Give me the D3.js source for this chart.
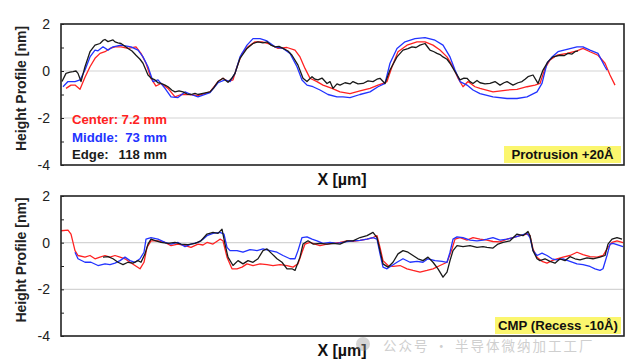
<!DOCTYPE html>
<html>
<head>
<meta charset="utf-8">
<script src="https://cdn.jsdelivr.net/npm/d3@7"></script>
<style>
  body { margin: 0; background: #fff; }
  svg { display: block; font-family: "Liberation Sans", Arial, sans-serif; }
</style>
</head>
<body>
<svg id="chart" width="635" height="363"></svg>
<script>
// x in um, height in nm
const yTicks = [-4, -3, -2, -1, 0, 1, 2];
const gridValues = [0, -2];

const legendLabels = ["Center:", "Middle:", "Edge:"];
const legendValues = ["7.2 mm", "73 mm", "118 mm"];
const seriesColors = ["#ff2222", "#2233ff", "#1a1a1a"];
const panelTags = ["Protrusion +20\u00c5", "CMP (Recess -10\u00c5)"];

// top panel (after protrusion)
const topCenter = [[0.5,-0.74],[1.0,-0.6],[1.4,-0.6],[1.9,-0.78],[2.4,-0.27],[2.9,0.18],[3.4,0.54],[3.9,0.75],[4.4,0.82],[4.9,0.96],[5.4,1.03],[6.0,1.03],[6.7,0.96],[7.5,1.03],[8.0,0.75],[8.5,0.33],[9.0,-0.31],[9.5,-0.64],[10.0,-0.53],[10.7,-0.74],[11.4,-1.1],[12.0,-1.0],[12.9,-1.0],[13.7,-1.05],[14.9,-0.89],[15.7,-0.45],[16.2,-0.31],[16.7,-0.45],[17.2,-0.38],[17.6,0.18],[18.1,0.75],[18.7,1.03],[19.4,1.24],[20.1,1.24],[20.9,1.14],[21.7,0.96],[22.6,1.0],[23.4,0.89],[23.9,0.6],[24.4,0.11],[24.9,-0.31],[25.6,-0.45],[26.2,-0.6],[27.1,-0.74],[27.9,-0.89],[28.9,-0.96],[29.9,-0.85],[30.9,-0.74],[31.7,-0.6],[32.2,-0.53],[32.6,-0.45],[33.1,0.18],[33.7,0.82],[34.6,1.1],[35.6,1.24],[36.4,1.24],[37.2,1.1],[37.9,0.89],[38.6,0.6],[39.2,0.18],[39.7,-0.31],[40.2,-0.67],[40.7,-0.45],[41.4,-0.67],[41.9,-0.74],[43.2,-0.89],[44.6,-0.81],[45.6,-0.78],[46.6,-0.67],[47.4,-0.6],[47.9,-0.53],[48.4,0.11],[48.9,0.47],[49.6,0.67],[50.6,0.75],[51.6,0.86],[52.2,0.96],[52.9,0.82],[53.7,0.67],[54.4,0.33],[54.9,-0.17],[55.4,-0.6]];

const topMiddle = [[0.2,-0.67],[0.7,-0.45],[1.4,-0.45],[1.9,-0.38],[2.4,0.04],[2.9,0.6],[3.4,0.89],[3.7,0.86],[4.2,1.03],[4.7,0.89],[5.2,1.03],[6.0,1.1],[7.0,1.03],[7.7,0.89],[8.2,0.6],[8.7,0.18],[9.2,-0.45],[9.7,-0.38],[10.4,-0.74],[11.0,-1.1],[11.7,-1.13],[12.4,-0.89],[13.0,-1.0],[13.7,-1.1],[14.9,-0.92],[15.7,-0.5],[16.4,-0.38],[16.9,-0.45],[17.4,-0.1],[17.9,0.6],[18.6,1.1],[19.2,1.38],[19.9,1.38],[20.6,1.28],[21.4,1.03],[22.2,0.96],[22.9,0.75],[23.6,0.18],[24.1,-0.38],[24.6,-0.6],[25.2,-0.67],[25.9,-0.81],[26.7,-1.0],[27.6,-1.1],[28.2,-1.1],[28.9,-1.13],[29.9,-1.0],[30.9,-0.89],[31.7,-0.67],[32.4,-0.53],[32.9,0.33],[33.6,0.96],[34.4,1.24],[35.4,1.38],[36.4,1.42],[37.4,1.31],[38.2,1.1],[38.9,0.6],[39.4,0.04],[39.9,-0.45],[40.6,-0.6],[41.2,-0.81],[41.9,-0.96],[43.2,-1.1],[44.6,-1.17],[45.6,-1.17],[46.6,-1.1],[47.6,-0.89],[48.1,-0.53],[48.6,0.33],[49.1,0.6],[49.7,0.82],[50.6,0.92],[51.6,1.03],[52.2,1.03],[52.9,0.89],[53.7,0.75],[54.4,0.18],[54.6,0.04]];

const topEdge = [[0.1,-0.45],[0.5,-0.1],[0.9,-0.05],[1.2,-0.03],[1.5,0.0],[1.7,-0.1],[2.0,-0.45],[2.4,0.18],[2.9,0.82],[3.4,1.1],[3.9,1.17],[4.2,1.3],[4.4,1.34],[4.7,1.25],[4.9,1.28],[5.2,1.32],[5.4,1.24],[5.7,1.2],[6.0,1.17],[6.4,1.05],[6.7,0.96],[7.1,0.85],[7.5,0.67],[7.9,0.5],[8.2,0.33],[8.7,-0.17],[9.0,-0.3],[9.4,-0.38],[9.7,-0.5],[10.0,-0.53],[10.4,-0.6],[10.7,-0.67],[11.1,-0.82],[11.4,-0.89],[11.8,-0.85],[12.2,-0.89],[12.6,-0.98],[13.0,-1.0],[13.4,-0.95],[13.7,-1.0],[14.2,-0.95],[14.9,-0.89],[15.3,-0.7],[15.7,-0.45],[16.2,-0.31],[16.7,-0.48],[17.1,-0.3],[17.4,-0.1],[17.9,0.54],[18.6,0.96],[19.2,1.17],[19.7,1.24],[20.2,1.2],[20.6,1.24],[21.0,1.1],[21.4,1.03],[21.8,1.05],[22.2,0.96],[22.7,0.85],[23.1,0.67],[23.7,0.25],[24.2,-0.31],[24.6,-0.45],[25.1,-0.24],[25.4,-0.35],[25.7,-0.38],[26.1,-0.3],[26.6,-0.53],[26.9,-0.45],[27.2,-0.74],[27.6,-0.55],[27.9,-0.6],[28.4,-0.5],[28.9,-0.55],[29.2,-0.45],[29.7,-0.55],[30.2,-0.53],[30.7,-0.42],[31.2,-0.45],[31.6,-0.35],[31.9,-0.31],[32.4,-0.53],[32.9,0.04],[33.6,0.6],[34.2,0.89],[34.7,0.95],[35.1,1.03],[35.5,1.0],[35.9,1.1],[36.4,1.17],[36.7,1.0],[36.9,0.89],[37.3,0.82],[37.6,0.75],[37.9,0.7],[38.2,0.6],[38.6,0.5],[38.9,0.33],[39.4,-0.03],[39.9,-0.38],[40.3,-0.3],[40.6,-0.31],[40.9,-0.45],[41.2,-0.53],[41.6,-0.4],[41.9,-0.5],[42.4,-0.55],[42.9,-0.53],[43.4,-0.45],[43.9,-0.6],[44.3,-0.5],[44.6,-0.45],[45.2,-0.6],[45.7,-0.5],[46.1,-0.45],[46.4,-0.35],[46.7,-0.24],[47.2,-0.17],[47.7,-0.53],[48.2,0.04],[48.7,0.4],[49.2,0.6],[49.9,0.67],[50.3,0.65],[50.7,0.75],[51.1,0.72],[51.4,0.82],[51.7,0.86]];

// bottom panel (after CMP)
const cmpCenter = [[0.0,0.51],[0.7,0.54],[1.0,0.37],[1.4,-0.34],[1.7,-0.55],[2.4,-0.62],[2.9,-0.55],[3.4,-0.69],[3.9,-0.62],[4.4,-0.55],[4.9,-0.62],[5.4,-0.55],[5.9,-0.62],[6.4,-0.69],[6.9,-0.84],[7.4,-0.98],[7.9,-1.12],[8.3,-0.84],[8.6,-0.2],[9.0,0.08],[9.7,0.08],[10.4,0.01],[11.0,-0.13],[11.7,-0.06],[12.4,-0.13],[13.0,-0.2],[13.7,-0.06],[14.2,-0.1],[14.6,0.01],[15.2,-0.06],[15.9,0.15],[16.2,0.08],[16.6,-0.62],[17.1,-1.12],[17.6,-1.12],[18.1,-1.05],[18.6,-0.91],[19.2,-0.98],[19.9,-0.91],[20.6,-0.94],[21.2,-0.98],[21.9,-0.94],[22.6,-0.98],[23.2,-1.05],[23.7,-0.91],[24.1,-0.41],[24.4,-0.06],[24.9,0.01],[25.4,-0.06],[25.9,-0.13],[26.6,-0.06],[27.2,-0.03],[27.9,0.01],[28.6,0.08],[29.2,0.06],[29.9,0.1],[30.6,0.15],[31.2,0.22],[31.6,0.3],[31.9,-0.2],[32.2,-0.77],[32.7,-0.98],[33.2,-1.02],[33.9,-0.98],[34.6,-1.12],[35.2,-1.19],[35.9,-1.26],[36.6,-1.19],[37.2,-1.12],[37.9,-0.98],[38.6,-0.84],[39.1,-0.27],[39.4,0.15],[39.9,0.22],[40.6,0.11],[41.2,0.22],[41.9,0.15],[42.6,0.11],[43.2,0.05],[43.9,0.03],[44.6,0.15],[45.2,0.22],[45.9,0.3],[46.6,0.37],[46.9,0.3],[47.2,-0.27],[47.6,-0.62],[48.1,-0.8],[48.6,-0.88],[49.1,-0.77],[49.6,-0.69],[50.2,-0.62],[50.9,-0.55],[51.6,-0.41],[52.2,-0.51],[52.9,-0.6],[53.6,-0.62],[54.2,-0.55],[54.7,-0.2],[55.1,0.01],[55.6,0.08],[56.2,0.0]];

const cmpMiddle = [[1.4,-0.41],[1.7,-0.69],[2.4,-0.84],[3.0,-0.84],[3.7,-0.98],[4.4,-0.91],[4.9,-0.94],[5.4,-0.88],[5.9,-0.77],[6.4,-0.62],[6.9,-0.77],[7.4,-0.84],[7.9,-0.69],[8.3,-0.41],[8.5,0.15],[9.0,0.22],[9.7,0.15],[10.4,0.01],[11.0,-0.06],[11.7,0.01],[12.4,-0.17],[13.0,-0.06],[13.7,0.01],[14.2,0.15],[14.6,0.3],[15.2,0.4],[15.9,0.44],[16.3,0.37],[16.6,-0.2],[16.9,-0.34],[17.6,-0.34],[18.2,-0.41],[18.9,-0.3],[19.6,-0.34],[20.2,-0.27],[20.9,-0.34],[21.6,-0.41],[22.2,-0.55],[22.9,-0.69],[23.4,-0.69],[23.7,-0.34],[24.1,0.22],[24.6,0.25],[25.1,0.15],[25.6,0.08],[26.2,-0.03],[26.9,0.01],[27.6,-0.03],[28.2,0.01],[28.6,0.04],[29.2,0.08],[29.9,0.1],[30.6,0.15],[31.2,0.22],[31.6,0.15],[31.9,-0.48],[32.2,-1.05],[32.6,-1.12],[33.1,-0.98],[33.6,-0.84],[34.2,-0.69],[34.9,-0.84],[35.6,-0.8],[36.2,-0.84],[36.7,-0.69],[37.4,-0.77],[38.1,-0.8],[38.6,-0.84],[38.9,-0.41],[39.2,0.15],[39.6,0.25],[40.2,0.22],[40.9,0.11],[41.6,0.08],[42.2,0.11],[42.6,0.15],[43.2,0.22],[43.9,0.11],[44.6,0.15],[45.2,0.22],[45.9,0.3],[46.6,0.4],[46.9,0.22],[47.2,-0.34],[47.6,-0.55],[48.1,-0.45],[48.6,-0.55],[49.1,-0.69],[49.6,-0.74],[50.2,-0.69],[50.9,-0.8],[51.6,-0.91],[52.2,-0.94],[52.9,-1.02],[53.4,-1.12],[53.9,-1.19],[54.2,-1.12],[54.6,-0.55],[54.9,-0.06],[55.2,-0.03],[55.9,-0.13],[56.2,-0.17]];

const cmpEdge = [[4.2,-0.62],[4.7,-0.6],[5.2,-0.69],[5.7,-0.84],[6.2,-0.94],[6.7,-0.84],[7.2,-0.88],[7.7,-0.77],[8.0,-0.84],[8.4,-0.48],[8.7,-0.06],[9.0,0.15],[9.5,0.08],[10.0,0.01],[10.7,-0.03],[11.4,0.01],[12.0,-0.06],[12.7,-0.08],[13.4,-0.03],[14.0,0.08],[14.6,0.37],[15.2,0.44],[15.7,0.4],[16.1,0.58],[16.4,-0.06],[16.7,-0.62],[17.2,-0.98],[17.7,-0.77],[18.2,-0.91],[18.7,-0.77],[19.2,-0.84],[19.7,-0.69],[20.2,-0.34],[20.6,-0.27],[21.1,-0.48],[21.6,-0.69],[22.1,-0.84],[22.6,-1.12],[23.1,-1.12],[23.4,-1.19],[23.9,-0.62],[24.2,-0.06],[24.7,0.08],[25.2,-0.06],[25.9,-0.03],[26.6,-0.06],[27.2,-0.03],[27.9,-0.06],[28.6,0.08],[29.2,0.08],[29.9,0.22],[30.6,0.3],[31.2,0.44],[31.6,0.22],[31.9,-0.34],[32.2,-0.91],[32.7,-1.05],[33.2,-0.84],[33.7,-0.48],[34.2,-0.34],[34.7,-0.41],[35.2,-0.55],[35.7,-0.69],[36.2,-0.77],[36.7,-0.62],[37.2,-0.84],[37.7,-1.12],[38.2,-1.48],[38.6,-1.26],[38.9,-0.77],[39.2,-0.34],[39.6,-0.13],[40.2,-0.17],[40.9,-0.13],[41.6,-0.2],[42.2,-0.17],[42.6,-0.2],[43.2,-0.23],[43.7,-0.06],[44.2,0.01],[44.9,0.08],[45.6,0.37],[46.2,0.3],[46.7,0.48],[46.9,0.3],[47.2,-0.34],[47.6,-0.69],[47.9,-0.77],[48.4,-0.69],[48.9,-0.8],[49.4,-0.88],[49.9,-0.69],[50.4,-0.77],[50.9,-0.6],[51.4,-0.69],[51.9,-0.74],[52.6,-0.65],[53.2,-0.69],[53.9,-0.62],[54.4,-0.55],[54.7,-0.06],[55.1,0.15],[55.6,0.22],[56.1,0.15]];

const topSeries = [topCenter, topMiddle, topEdge];
const cmpSeries = [cmpCenter, cmpMiddle, cmpEdge];

let svg = d3.select('#chart');
let plotLeft = 61, plotRight = 624;

let x = d3.scaleLinear().domain([0, 56.3]).range([plotLeft, plotRight]);

function drawPanel(top, bottom, series, tag, withLegend) {
  let g = svg.append('g');
  let y = d3.scaleLinear().domain([-4, 2]).range([bottom, top]);

  // gridlines
  g.selectAll('.grid')
    .data(gridValues)
    .enter()
    .append('line')
      .attr('x1', plotLeft)
      .attr('x2', plotRight)
      .attr('y1', d => y(d))
      .attr('y2', d => y(d))
      .attr('stroke', '#d4d4d4')
      .attr('stroke-width', 1.2);

  // lines
  let line = d3.line()
      .x(d => x(d[0]))
      .y(d => y(d[1]));

  g.selectAll('.series')
    .data(series)
    .enter()
    .append('path')
      .attr('d', line)
      .attr('fill', 'none')
      .attr('stroke', (d, i) => seriesColors[i])
      .attr('stroke-width', 1.3)
      .attr('stroke-linejoin', 'round');

  // frame
  g.append('rect')
      .attr('x', plotLeft)
      .attr('y', top)
      .attr('width', plotRight - plotLeft)
      .attr('height', bottom - top)
      .attr('fill', 'none')
      .attr('stroke', '#222')
      .attr('stroke-width', 1.6);

  // y axis
  let gY = g.append('g')
      .attr('transform', 'translate(' + plotLeft + ',0)')
      .call(d3.axisLeft(y).tickValues(yTicks).tickSize(-3).tickPadding(11)
        .tickFormat(d => d % 2 === 0 ? String(d) : ''));
  gY.select('.domain').remove();
  gY.selectAll('.tick line').attr('stroke', '#222');
  gY.selectAll('text')
      .attr('font-size', 14)
      .attr('font-family', '"Liberation Sans", Arial, sans-serif')
      .attr('fill', '#222');

  g.append('text')
      .attr('transform', 'translate(26,' + ((top + bottom) / 2 - 6) + ') rotate(-90)')
      .attr('text-anchor', 'middle')
      .attr('font-size', 14)
      .attr('font-weight', 'bold')
      .attr('fill', '#222')
      .text('Height Profile [nm]');

  g.append('text')
      .attr('x', 342)
      .attr('y', bottom + 20)
      .attr('text-anchor', 'middle')
      .attr('font-size', 16)
      .attr('font-weight', 'bold')
      .attr('fill', '#111')
      .text('X [\u00b5m]');

  // tag box
  let tagW = tag.length > 16 ? 126 : 117;
  g.append('rect')
      .attr('x', 621 - tagW)
      .attr('y', bottom - 19)
      .attr('width', tagW)
      .attr('height', 17)
      .attr('fill', '#fbf66e');
  g.append('text')
      .attr('x', 621 - tagW / 2)
      .attr('y', bottom - 6)
      .attr('text-anchor', 'middle')
      .attr('font-size', 13.2)
      .attr('font-weight', 'bold')
      .attr('fill', '#111')
      .text(tag);

  if (withLegend) {
    g.selectAll('.legLabel')
      .data(legendLabels)
      .enter()
      .append('text')
        .attr('x', 72)
        .attr('y', (d, i) => 124 + i * 17.5)
        .attr('font-size', 13.2)
        .attr('font-weight', 'bold')
        .attr('fill', (d, i) => seriesColors[i])
        .text(d => d);
    g.selectAll('.legValue')
      .data(legendValues)
      .enter()
      .append('text')
        .attr('x', 167)
        .attr('y', (d, i) => 124 + i * 17.5)
        .attr('text-anchor', 'end')
        .attr('font-size', 13.2)
        .attr('font-weight', 'bold')
        .attr('fill', (d, i) => seriesColors[i])
        .text(d => d);
  }
}

drawPanel(24, 165, topSeries, panelTags[0], true);
drawPanel(196, 336, cmpSeries, panelTags[1], false);

// watermark
let wm = svg.append('g').attr('opacity', 0.4);
wm.append('circle').attr('cx', 363).attr('cy', 344).attr('r', 7).attr('fill', '#999');
wm.append('text')
    .attr('x', 383)
    .attr('y', 351)
    .attr('font-size', 13.5)
    .attr('letter-spacing', 2)
    .attr('font-family', '"Noto Sans CJK SC", sans-serif')
    .attr('fill', '#888')
    .text('公众号 · 半导体微纳加工工厂');
</script>
</body>
</html>
